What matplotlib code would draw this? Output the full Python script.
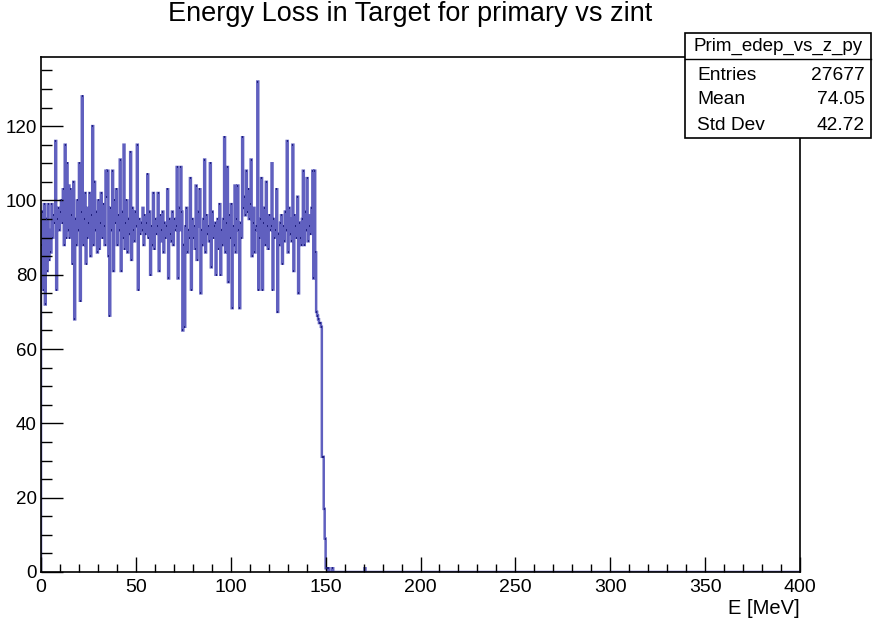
import numpy as np
import matplotlib.pyplot as plt
from matplotlib.patches import Rectangle
from matplotlib.lines import Line2D
from matplotlib.ticker import MultipleLocator

plt.rcParams['font.family'] = ['Liberation Sans', 'DejaVu Sans']

# histogram binning: 0.5 MeV bins over 0 - 400 MeV
bin_width = 0.5
x_min, x_max = 0.0, 400.0

# counts per bin on the plateau, 0 - 145 MeV (ten bins = 5 MeV per row)
plateau_counts = [
    88, 97, 76, 99, 72, 95, 81, 99, 84, 92,
    86, 99, 90, 96, 94, 116, 76, 95, 98, 92,
    97, 100, 94, 103, 88, 115, 90, 110, 92, 104,
    90, 103, 96, 83, 105, 68, 95, 88, 100, 92,
    110, 73, 97, 128, 88, 95, 102, 83, 98, 90,
    94, 102, 85, 96, 120, 88, 105, 92, 97, 86,
    100, 87, 94, 102, 90, 99, 93, 88, 108, 101,
    108, 85, 69, 98, 92, 108, 81, 100, 94, 103,
    88, 96, 92, 111, 81, 97, 90, 115, 87, 94,
    100, 86, 95, 91, 113, 84, 98, 92, 89, 97,
    93, 115, 76, 95, 91, 94, 92, 98, 88, 96,
    91, 94, 107, 90, 97, 80, 93, 88, 102, 87,
    95, 91, 93, 102, 81, 96, 89, 92, 97, 86,
    94, 90, 93, 103, 79, 95, 91, 89, 97, 88,
    95, 92, 93, 109, 79, 98, 92, 109, 97, 65,
    88, 66, 93, 98, 86, 92, 90, 106, 76, 95,
    90, 93, 87, 104, 84, 93, 97, 103, 75, 92,
    88, 95, 111, 86, 96, 91, 93, 89, 110, 82,
    97, 90, 93, 94, 80, 91, 95, 87, 99, 80,
    92, 88, 95, 117, 86, 94, 109, 78, 96, 90,
    99, 71, 93, 88, 104, 86, 95, 104, 92, 71,
    94, 90, 117, 98, 101, 96, 108, 97, 103, 95,
    99, 111, 85, 94, 98, 86, 92, 93, 132, 76,
    90, 95, 106, 76, 94, 98, 88, 105, 93, 87,
    96, 92, 93, 110, 76, 95, 90, 92, 103, 70,
    91, 88, 94, 96, 83, 93, 89, 97, 92, 116,
    86, 98, 91, 95, 89, 115, 81, 96, 93, 90,
    101, 75, 94, 90, 88, 95, 108, 88, 97, 92,
    106, 89, 96, 93, 91, 98, 108, 79, 108, 86,
]

# falling edge and sparse tail, 145 - 171 MeV
tail_counts = [
    70, 69, 68, 67, 67, 66, 31, 31, 17, 9,
    1, 1, 0, 1, 0, 0, 0, 1, 0, 0,
    0, 0, 0, 0, 0, 0, 0, 0, 0, 0,
    0, 0, 0, 0, 0, 0, 0, 0, 0, 0,
    0, 0, 0, 0, 0, 0, 0, 0, 0, 0,
    0, 1,
]

title = "Energy Loss in Target for primary vs zint"
x_label = "E [MeV]"
stats_name = "Prim_edep_vs_z_py"
stats_rows = [("Entries", "27677"), ("Mean", "74.05"), ("Std Dev", "42.72")]

W, H = 873, 621


def fx(px):
    return px / W


def fy(py):
    return 1 - py / H


n_bins = int(round((x_max - x_min) / bin_width))
counts = np.zeros(n_bins)
filled = np.array(plateau_counts + tail_counts, dtype=float)
counts[:len(filled)] = filled
edges = np.linspace(x_min, x_max, n_bins + 1)

fig = plt.figure(figsize=(W / 100, H / 100), dpi=100)
ax = fig.add_axes([fx(41), fy(572), fx(800) - fx(41), fy(57) - fy(572)])

# outline of the histogram, with the bin tops drawn darker on top
ax.stairs(counts, edges, color='#4f4fb8', linewidth=1.8, alpha=0.9)
nz = counts > 0
ax.hlines(counts[nz], edges[:-1][nz], edges[1:][nz], color='#1a1a78', linewidth=1.3)

ax.set_xlim(x_min, x_max)
ax.set_ylim(0, 1.05 * counts.max())

ax.xaxis.set_major_locator(MultipleLocator(50))
ax.xaxis.set_minor_locator(MultipleLocator(10))
ax.yaxis.set_major_locator(MultipleLocator(20))
ax.yaxis.set_minor_locator(MultipleLocator(5))
ax.tick_params(axis='x', which='major', direction='in', length=11, width=1.0, pad=5, labelsize=14)
ax.tick_params(axis='x', which='minor', direction='in', length=6, width=1.0)
ax.tick_params(axis='y', which='major', direction='in', length=16, width=1.0, pad=3, labelsize=13.5)
ax.tick_params(axis='y', which='minor', direction='in', length=8, width=1.0)
for sp in ax.spines.values():
    sp.set_linewidth(1.2)

fig.text(fx(410), fy(14), title, ha='center', va='center', fontsize=19.5)
fig.text(fx(800), fy(609), x_label, ha='right', va='center', fontsize=14.5)

# stats box
box_l, box_r, box_t, box_b = 685, 871, 33, 138
fig.add_artist(Rectangle((fx(box_l), fy(box_b)), fx(box_r) - fx(box_l), fy(box_t) - fy(box_b),
                         transform=fig.transFigure, facecolor='white', edgecolor='black',
                         linewidth=1.2, zorder=5))
fig.add_artist(Line2D([fx(box_l), fx(box_r)], [fy(58.5), fy(58.5)], transform=fig.transFigure,
                      color='black', linewidth=1.0, zorder=6))
fig.text(fx((box_l + box_r) / 2), fy(46.5), stats_name, ha='center', va='center',
         fontsize=13.5, zorder=7)
for i, (lab, val) in enumerate(stats_rows):
    y = fy(75 + 25 * i)
    fig.text(fx(697), y, lab, ha='left', va='center', fontsize=13.8, zorder=7)
    fig.text(fx(865), y, val, ha='right', va='center', fontsize=13.8, zorder=7)

fig.savefig('out.png', dpi=100)
